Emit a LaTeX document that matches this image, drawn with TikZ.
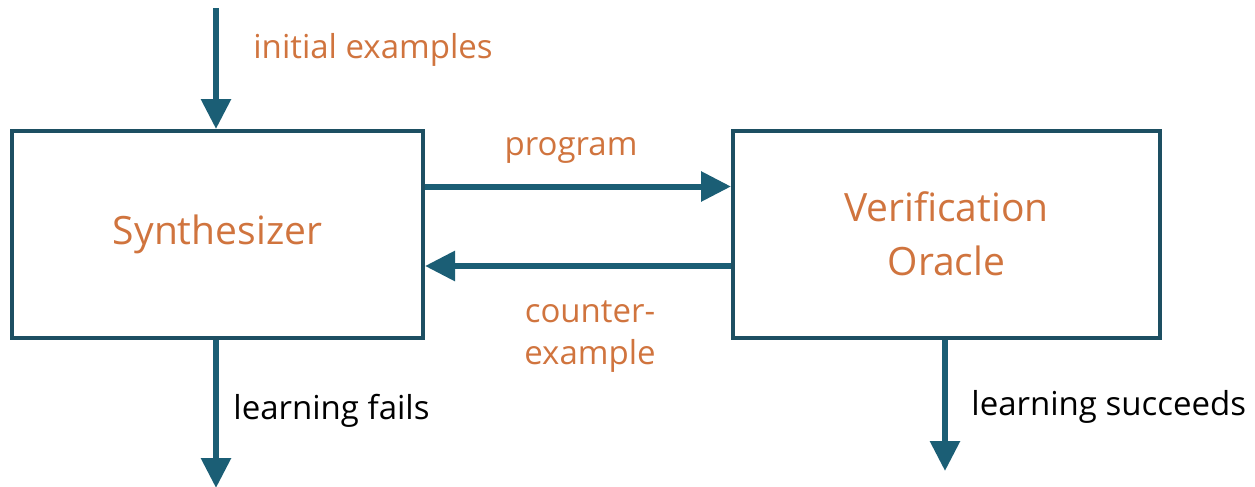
\documentclass[tikz,border=0pt]{standalone}
\usepackage{fontspec}
\setmainfont{Open Sans}
\usetikzlibrary{arrows.meta}
\definecolor{flowblue}{HTML}{1B5E75}
\definecolor{boxblue}{HTML}{1D4F62}
\definecolor{labelorange}{HTML}{D0743E}
\tikzset{%
  >={Triangle[length=15pt,width=14.5pt]}, % default arrow style
  block/.style={draw=boxblue,line width=2pt,fill=white,
    minimum width=205.5pt,minimum height=103.5pt,
    font=\fontsize{19.5}{27}\selectfont,text=labelorange,
    align=center},%
  flow/.style={->,draw=flowblue,line width=3pt},%
  tag/.style={font=\fontsize{16.5}{21}\selectfont,text=labelorange,
    align=center},%
  outtag/.style={font=\fontsize{16.5}{20}\selectfont,text=black,anchor=west,
    inner sep=0pt}%
}

\begin{document}
\begin{tikzpicture}[x=0.5pt,y=-0.5pt]
  \useasboundingbox (0,0) rectangle (1255,487);
  % boxes
  \node[block] (syn) at (217.5,234.5) {Synthesizer};
  \node[block,minimum width=213.5pt] (ver) at (946.5,234)
    {Verification\\Oracle};
  % coordinates
  \coordinate (in)   at (216,8);
  \coordinate (fail) at (216,488);
  \coordinate (succ) at (945,471);
  % arrows
  \draw[flow] (in) -- (in |- syn.north);
  \draw[flow] ([yshift=24pt]syn.east) -- ([yshift=24pt]syn.east -| ver.west);
  \draw[flow] ([yshift=-16pt]ver.west) -- ([yshift=-16pt]ver.west -| syn.east);
  \draw[flow] (syn.south -| fail) -- (fail);
  \draw[flow] (ver.south -| succ) -- (succ);
  % labels
  \node[tag,anchor=west,inner sep=0pt] (ini) at (253,50) {initial examples};
  \node[tag] (prog) at (571,150) {program};
  \node[tag] (cex) at (590,337) {counter-\\example};
  \node[outtag] (lf) at (233,411) {learning fails};
  \node[outtag] (ls) at (971,407) {learning succeeds};
\end{tikzpicture}
\end{document}
